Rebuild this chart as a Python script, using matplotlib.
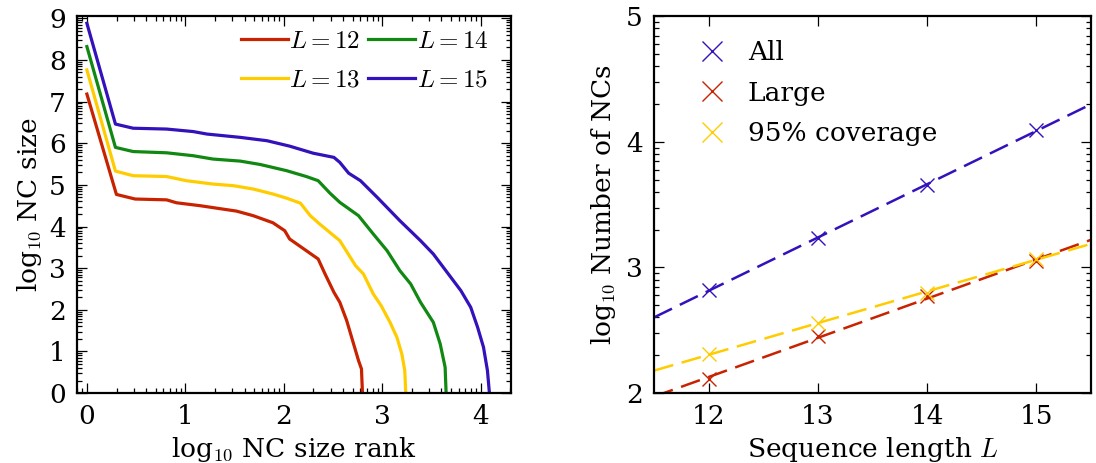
import numpy as np
import matplotlib
matplotlib.use("Agg")
import matplotlib.pyplot as plt
from matplotlib.ticker import FixedLocator

plt.rcParams['font.family'] = ['DejaVu Serif']
plt.rcParams['mathtext.fontset'] = 'cm'
plt.rcParams['font.size'] = 18

# ---- Left panel data: log10 NC size vs log10 rank ----
rank12 = [0, 0.30, 0.49, 0.81, 0.91, 1.15, 1.32, 1.52, 1.69, 1.89, 2.01, 2.06, 2.35, 2.42, 2.51, 2.57, 2.64, 2.71, 2.76, 2.79, 2.80]
size12 = [7.18, 4.77, 4.66, 4.64, 4.57, 4.50, 4.44, 4.37, 4.26, 4.09, 3.90, 3.70, 3.22, 2.86, 2.42, 2.18, 1.74, 1.18, 0.78, 0.58, 0.0]

rank13 = [0, 0.29, 0.47, 0.81, 1.01, 1.28, 1.49, 1.69, 1.89, 2.03, 2.17, 2.27, 2.37, 2.57, 2.73, 2.81, 2.91, 2.99, 3.08, 3.15, 3.20, 3.23, 3.24]
size13 = [7.76, 5.33, 5.22, 5.20, 5.10, 5.02, 4.98, 4.90, 4.78, 4.68, 4.56, 4.26, 4.05, 3.66, 3.06, 2.86, 2.38, 2.10, 1.70, 1.34, 0.94, 0.54, 0.0]

rank14 = [0, 0.29, 0.47, 0.81, 1.08, 1.28, 1.56, 1.76, 2.03, 2.23, 2.35, 2.47, 2.57, 2.76, 2.91, 3.05, 3.18, 3.29, 3.39, 3.52, 3.59, 3.64, 3.65]
size14 = [8.32, 5.90, 5.80, 5.77, 5.70, 5.62, 5.57, 5.49, 5.34, 5.20, 5.10, 4.80, 4.58, 4.26, 3.82, 3.42, 2.94, 2.62, 2.18, 1.70, 1.18, 0.62, 0.0]

rank15 = [0, 0.29, 0.47, 0.81, 1.08, 1.22, 1.56, 1.83, 2.06, 2.30, 2.51, 2.57, 2.66, 2.78, 2.95, 3.18, 3.39, 3.52, 3.66, 3.80, 3.90, 3.97, 4.03, 4.07, 4.09]
size15 = [8.88, 6.46, 6.36, 6.34, 6.28, 6.22, 6.14, 6.06, 5.93, 5.76, 5.66, 5.54, 5.28, 5.10, 4.70, 4.14, 3.66, 3.34, 2.90, 2.46, 2.06, 1.58, 1.10, 0.54, 0.0]

# ---- Right panel data ----
L_values = [12, 13, 14, 15]
n_all = [2.817, 3.238, 3.655, 4.092]
n_large = [2.115, 2.451, 2.769, 3.049]
n_cov95 = [2.31, 2.555, 2.798, 3.07]

c_red = '#c82200'
c_yel = '#ffcc00'
c_grn = '#118811'
c_blu = '#3311bb'

fig = plt.figure(figsize=(10.96, 4.63), dpi=100)
ax1 = fig.add_axes([0.0703, 0.151, 0.3960, 0.814])
ax2 = fig.add_axes([0.5967, 0.151, 0.3987, 0.814])

for r, s, c, lab in [(rank12, size12, c_red, r'$L=12$'),
                     (rank13, size13, c_yel, r'$L=13$'),
                     (rank14, size14, c_grn, r'$L=14$'),
                     (rank15, size15, c_blu, r'$L=15$')]:
    ax1.plot(r, s, color=c, lw=2.3, label=lab)

ax1.set_xlim(-0.1, 4.31)
ax1.set_ylim(0, 9.05)
ax1.set_xticks([0, 1, 2, 3, 4])
ax1.set_yticks(range(0, 10))
minor_x = [n + np.log10(k) for n in range(-1, 5) for k in range(2, 10)]
minor_y = [n + np.log10(k) for n in range(0, 10) for k in range(2, 10)]
ax1.xaxis.set_minor_locator(FixedLocator(minor_x))
ax1.yaxis.set_minor_locator(FixedLocator(minor_y))
ax1.set_xlabel(r'log$_{10}$ NC size rank', fontsize=19, labelpad=4)
ax1.set_ylabel(r'log$_{10}$ NC size', fontsize=19, labelpad=4)
ax1.legend(loc='upper right', ncol=2, frameon=False, handlelength=1.9,
           handletextpad=0.05, columnspacing=0.3, labelspacing=0.64,
           borderaxespad=0.25, borderpad=0.3, fontsize=18,
           bbox_to_anchor=(0.979, 1.0))

# right panel
xfit = np.array([11.5, 15.5])
for vals, c, lab in [(n_all, c_blu, 'All'), (n_large, c_red, 'Large'),
                     (n_cov95, c_yel, '95% coverage')]:
    p = np.polyfit(L_values, vals, 1)
    ax2.plot(xfit, np.polyval(p, xfit), color=c, lw=1.8, dashes=(8, 3.5))
    ax2.plot(L_values, vals, ls='none', marker='x', ms=10, mew=1.0,
             color=c, label=lab)

ax2.set_xlim(11.5, 15.5)
ax2.set_ylim(2, 5)
ax2.set_xticks(L_values)
ax2.set_yticks([2, 3, 4, 5])
minor_y2 = [n + np.log10(k) for n in range(2, 5) for k in range(2, 10)]
ax2.yaxis.set_minor_locator(FixedLocator(minor_y2))
ax2.set_xlabel(r'Sequence length $L$', fontsize=19, labelpad=4)
ax2.set_ylabel(r'log$_{10}$ Number of NCs', fontsize=19, labelpad=6)
ax2.legend(loc='upper left', frameon=False, numpoints=1, markerscale=1.5,
           handletextpad=0.38, labelspacing=0.58, borderaxespad=0.0,
           borderpad=0.8, fontsize=19, bbox_to_anchor=(0.023, 0.992))

for ax in (ax1, ax2):
    for sp in ax.spines.values():
        sp.set_linewidth(1.6)
    ax.tick_params(which='both', direction='in', top=True, right=True,
                   labelsize=19)
    ax.tick_params(which='major', length=7, width=0.9, pad=8)
    ax.tick_params(which='minor', length=3.5, width=0.9)

fig.savefig('out.png', dpi=100)
